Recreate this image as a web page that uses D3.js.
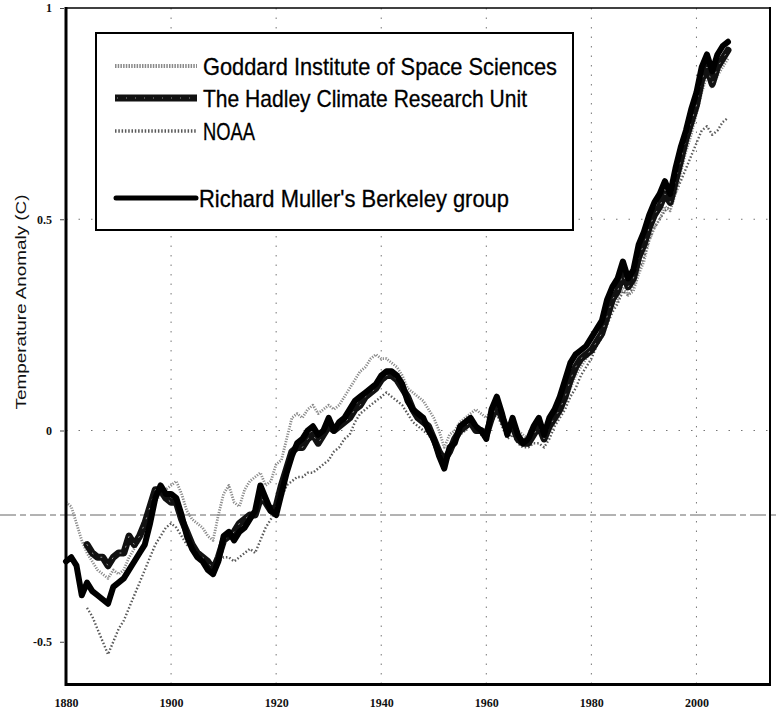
<!DOCTYPE html>
<html>
<head>
<meta charset="utf-8">
<script src="https://cdn.jsdelivr.net/npm/d3@7"></script>
<style>
  html, body { margin: 0; padding: 0; background: #fff; }
  svg { display: block; }
</style>
</head>
<body>
<svg id="chart" width="776" height="719"></svg>
<script>
// ---------- DATA ----------
const yearTicks = [1880, 1900, 1920, 1940, 1960, 1980, 2000];
const valueTicks = [1, 0.5, 0, -0.5];
const valueTickLabels = ["1", "0.5", "0", "-0.5"];

const seriesNames = [
  "Goddard Institute of Space Sciences",
  "The Hadley Climate Research Unit",
  "NOAA",
  "Richard Muller's Berkeley group"
];

const goddardStart = 1880;
const goddard = [
  -0.17,-0.18,-0.22,-0.26,-0.29,-0.31,-0.33,-0.34,-0.35,-0.33,
  -0.34,-0.33,-0.30,-0.28,-0.26,-0.24,-0.20,-0.17,-0.15,-0.14,
  -0.13,-0.12,-0.15,-0.19,-0.21,-0.22,-0.23,-0.25,-0.26,-0.20,
  -0.15,-0.13,-0.17,-0.18,-0.14,-0.12,-0.11,-0.10,-0.13,-0.12,
  -0.08,-0.07,-0.02,0.03,0.04,0.03,0.05,0.06,0.04,0.05,
  0.06,0.05,0.06,0.08,0.10,0.12,0.14,0.15,0.17,0.18,
  0.17,0.17,0.16,0.15,0.13,0.10,0.09,0.08,0.07,0.05,
  0.03,0.00,-0.04,-0.01,0.00,0.02,0.03,0.04,0.05,0.04,
  0.03,0.05,0.07,0.04,0.01,0.02,0.00,-0.01,-0.02,0.00,
  0.01,-0.02,0.00,0.02,0.04,0.07,0.10,0.13,0.15,0.17,
  0.19,0.21,0.23,0.26,0.29,0.31,0.34,0.32,0.33,0.37,
  0.40,0.45,0.48,0.50,0.53,0.52,0.56,0.61,0.66,0.70,
  0.75,0.80,0.84,0.81,0.84,0.86,0.88
];

const hadleyStart = 1884;
const hadley = [
  -0.27,-0.29,-0.30,-0.30,-0.32,-0.30,
  -0.29,-0.29,-0.25,-0.27,-0.25,-0.22,-0.18,-0.14,-0.14,-0.16,
  -0.17,-0.17,-0.21,-0.24,-0.27,-0.29,-0.30,-0.31,-0.33,-0.30,
  -0.26,-0.25,-0.24,-0.22,-0.21,-0.20,-0.20,-0.16,-0.17,-0.19,
  -0.18,-0.13,-0.09,-0.05,-0.04,-0.04,-0.02,-0.01,-0.03,-0.01,
  0.01,0.00,0.01,0.02,0.03,0.05,0.06,0.08,0.09,0.10,
  0.12,0.13,0.13,0.12,0.10,0.08,0.05,0.03,0.02,0.01,
  -0.02,-0.05,-0.07,-0.05,-0.02,0.00,0.01,0.02,0.00,0.00,
  -0.01,0.03,0.06,0.03,0.00,0.01,-0.02,-0.03,-0.03,-0.01,
  0.01,-0.02,0.01,0.03,0.05,0.08,0.12,0.15,0.17,0.18,
  0.19,0.21,0.23,0.27,0.31,0.33,0.37,0.34,0.36,0.41,
  0.44,0.48,0.51,0.53,0.56,0.54,0.59,0.64,0.69,0.73,
  0.77,0.83,0.86,0.82,0.86,0.88,0.90
];

const noaaStart = 1884;
const noaa = [
  -0.42,-0.44,-0.47,-0.50,-0.53,-0.50,
  -0.47,-0.45,-0.42,-0.39,-0.36,-0.33,-0.30,-0.27,-0.25,-0.23,
  -0.22,-0.23,-0.25,-0.27,-0.28,-0.29,-0.30,-0.32,-0.33,-0.31,
  -0.30,-0.30,-0.31,-0.30,-0.29,-0.28,-0.29,-0.26,-0.23,-0.21,
  -0.19,-0.16,-0.13,-0.12,-0.11,-0.11,-0.10,-0.10,-0.09,-0.08,
  -0.07,-0.05,-0.04,-0.02,-0.01,0.02,0.04,0.05,0.06,0.07,
  0.08,0.09,0.08,0.07,0.06,0.04,0.02,0.01,0.00,-0.01,
  -0.03,-0.05,-0.07,-0.05,-0.03,-0.01,0.00,0.02,0.01,-0.01,
  -0.02,0.02,0.04,0.01,-0.02,-0.01,-0.03,-0.04,-0.04,-0.03,
  -0.03,-0.04,-0.02,0.01,0.03,0.05,0.08,0.10,0.13,0.15,
  0.17,0.20,0.22,0.25,0.28,0.30,0.33,0.32,0.34,0.38,
  0.41,0.45,0.48,0.50,0.52,0.53,0.56,0.59,0.62,0.65,
  0.68,0.71,0.72,0.70,0.71,0.73,0.74
];

const berkeleyStart = 1880;
const berkeley = [
  -0.31,-0.30,-0.32,-0.39,-0.36,-0.38,-0.39,-0.40,-0.41,-0.37,
  -0.36,-0.35,-0.33,-0.31,-0.29,-0.27,-0.22,-0.16,-0.13,-0.15,
  -0.15,-0.16,-0.20,-0.25,-0.28,-0.30,-0.31,-0.33,-0.34,-0.31,
  -0.25,-0.24,-0.26,-0.24,-0.23,-0.21,-0.19,-0.13,-0.16,-0.19,
  -0.20,-0.15,-0.10,-0.06,-0.03,-0.02,0.00,0.01,-0.01,0.00,
  0.03,0.00,0.02,0.03,0.05,0.07,0.08,0.09,0.10,0.11,
  0.13,0.14,0.14,0.13,0.11,0.07,0.05,0.04,0.03,0.00,
  -0.02,-0.06,-0.09,-0.04,-0.03,0.01,0.02,0.03,0.01,0.00,
  -0.02,0.05,0.08,0.04,-0.01,0.03,-0.01,-0.03,-0.02,0.01,
  0.03,-0.01,0.03,0.05,0.08,0.12,0.16,0.18,0.19,0.20,
  0.22,0.24,0.26,0.31,0.34,0.36,0.40,0.36,0.38,0.44,
  0.47,0.51,0.54,0.56,0.59,0.56,0.62,0.67,0.71,0.76,
  0.80,0.86,0.89,0.85,0.89,0.91,0.92
];

// ---------- CHART ----------
const svg = d3.select("#chart");
const W = 776, H = 719;
const x = d3.scaleLinear().domain([1880, 2014]).range([66, 770]);
const y = d3.scaleLinear().domain([-0.6, 1]).range([684, 8]);

const toPts = (start, arr) => arr.map((v, i) => ({ yr: start + i, v }));
const line = d3.line().x(d => x(d.yr)).y(d => y(d.v));

svg.append("rect").attr("width", W).attr("height", H).attr("fill", "#fff");

// faint dotted gridlines
const grid = svg.append("g");
grid.selectAll("line.vg").data(yearTicks.filter(t => t > 1880)).join("line")
  .attr("x1", d => x(d)).attr("x2", d => x(d))
  .attr("y1", y(1)).attr("y2", y(-0.6))
  .attr("stroke", "#777").attr("stroke-width", 1)
  .attr("stroke-dasharray", "1.5,8");
grid.selectAll("line.hg").data([0.5, 0]).join("line")
  .attr("x1", x(1880)).attr("x2", x(2014))
  .attr("y1", d => y(d)).attr("y2", d => y(d))
  .attr("stroke", "#777").attr("stroke-width", 1)
  .attr("stroke-dasharray", "1.5,11");

// long dashed reference line crossing the whole picture
svg.append("line")
  .attr("x1", 0).attr("x2", W)
  .attr("y1", y(-0.2)).attr("y2", y(-0.2))
  .attr("stroke", "#666").attr("stroke-width", 1)
  .attr("stroke-dasharray", "16,4,6,4");

// series
const gS = svg.append("g").attr("fill", "none")
  .attr("stroke-linejoin", "round").attr("stroke-linecap", "round");

gS.append("path").datum(toPts(noaaStart, noaa)).attr("d", line)
  .attr("stroke", "#5a5a5a").attr("stroke-width", 2.4)
  .attr("stroke-dasharray", "1.5,2").attr("stroke-linecap", "butt");
gS.append("path").datum(toPts(goddardStart, goddard)).attr("d", line)
  .attr("stroke", "#8a8a8a").attr("stroke-width", 2.8)
  .attr("stroke-dasharray", "1.2,1.4").attr("stroke-linecap", "butt");
gS.append("path").datum(toPts(hadleyStart, hadley)).attr("d", line)
  .attr("stroke", "#111").attr("stroke-width", 7);
gS.append("path").datum(toPts(hadleyStart, hadley)).attr("d", line)
  .attr("stroke", "#fff").attr("stroke-width", 0.8)
  .attr("stroke-dasharray", "1,9").attr("opacity", 0.7);
gS.append("path").datum(toPts(berkeleyStart, berkeley)).attr("d", line)
  .attr("stroke", "#000").attr("stroke-width", 6);

// frame
const frame = svg.append("g").attr("stroke", "#000").attr("fill", "none");
frame.append("line").attr("x1", 66).attr("x2", 66).attr("y1", 7).attr("y2", 686).attr("stroke-width", 3);
frame.append("line").attr("x1", 65).attr("x2", 771).attr("y1", 684.5).attr("y2", 684.5).attr("stroke-width", 3);
frame.append("line").attr("x1", 65).attr("x2", 771).attr("y1", 8).attr("y2", 8).attr("stroke-width", 1.5);
frame.append("line").attr("x1", 770).attr("x2", 770).attr("y1", 7).attr("y2", 686).attr("stroke-width", 2);

// y axis
const yAxis = d3.axisLeft(y).tickValues(valueTicks).tickSize(4).tickPadding(8)
  .tickFormat((d, i) => valueTickLabels[i]);
const gy = svg.append("g").attr("transform", "translate(64,0)").call(yAxis);
gy.select(".domain").remove();
gy.selectAll(".tick line").attr("stroke", "#444").attr("stroke-width", 1);
gy.selectAll(".tick text")
  .attr("font-family", "'Liberation Serif', 'DejaVu Serif', serif")
  .attr("font-size", 12).attr("font-weight", "bold").attr("fill", "#111");

// x axis
const xAxis = d3.axisBottom(x).tickValues(yearTicks).tickSize(0).tickPadding(14)
  .tickFormat(d3.format("d"));
const gx = svg.append("g").attr("transform", "translate(0,684)").call(xAxis);
gx.select(".domain").remove();
gx.selectAll(".tick text")
  .attr("font-family", "'Liberation Serif', 'DejaVu Serif', serif")
  .attr("font-size", 12).attr("font-weight", "bold").attr("fill", "#111");

// y title
svg.append("text")
  .attr("transform", "translate(26,302) rotate(-90)")
  .attr("text-anchor", "middle")
  .attr("font-family", "'Liberation Sans', Arial, sans-serif")
  .attr("font-size", 14).attr("fill", "#111")
  .attr("textLength", 215).attr("lengthAdjust", "spacingAndGlyphs")
  .text("Temperature Anomaly (C)");

// legend
const lg = svg.append("g");
lg.append("rect").attr("x", 96).attr("y", 33).attr("width", 477).attr("height", 197)
  .attr("fill", "#fff").attr("stroke", "#000").attr("stroke-width", 2);

const legendRowY = [66, 98, 131, 198];
const legendTextLen = [354, 324, 52, 310];
const legendTextX = [203, 203, 203, 199];

// sample swatches
lg.append("line").attr("x1", 115).attr("x2", 197).attr("y1", legendRowY[0]).attr("y2", legendRowY[0])
  .attr("stroke", "#8a8a8a").attr("stroke-width", 4).attr("stroke-dasharray", "1.5,1.2");
lg.append("line").attr("x1", 115).attr("x2", 197).attr("y1", legendRowY[1]).attr("y2", legendRowY[1])
  .attr("stroke", "#111").attr("stroke-width", 7);
lg.append("line").attr("x1", 117).attr("x2", 195).attr("y1", legendRowY[1]).attr("y2", legendRowY[1])
  .attr("stroke", "#fff").attr("stroke-width", 0.8).attr("stroke-dasharray", "1,8").attr("opacity", 0.7);
lg.append("line").attr("x1", 115).attr("x2", 197).attr("y1", legendRowY[2]).attr("y2", legendRowY[2])
  .attr("stroke", "#5a5a5a").attr("stroke-width", 3.5).attr("stroke-dasharray", "1.5,1.8");
lg.append("line").attr("x1", 116).attr("x2", 196).attr("y1", legendRowY[3]).attr("y2", legendRowY[3])
  .attr("stroke", "#000").attr("stroke-width", 5).attr("stroke-linecap", "round");

lg.selectAll("text.leg").data(seriesNames).join("text")
  .attr("class", "leg")
  .attr("x", (d, i) => legendTextX[i])
  .attr("y", (d, i) => legendRowY[i] + 8.5)
  .attr("font-family", "'Liberation Sans Narrow', 'Arial Narrow', 'Liberation Sans', Arial, sans-serif")
  .attr("font-size", 24).attr("fill", "#000")
  .attr("stroke", "#000").attr("stroke-width", 0.3)
  .attr("textLength", (d, i) => legendTextLen[i]).attr("lengthAdjust", "spacingAndGlyphs")
  .text(d => d);
</script>
</body>
</html>
